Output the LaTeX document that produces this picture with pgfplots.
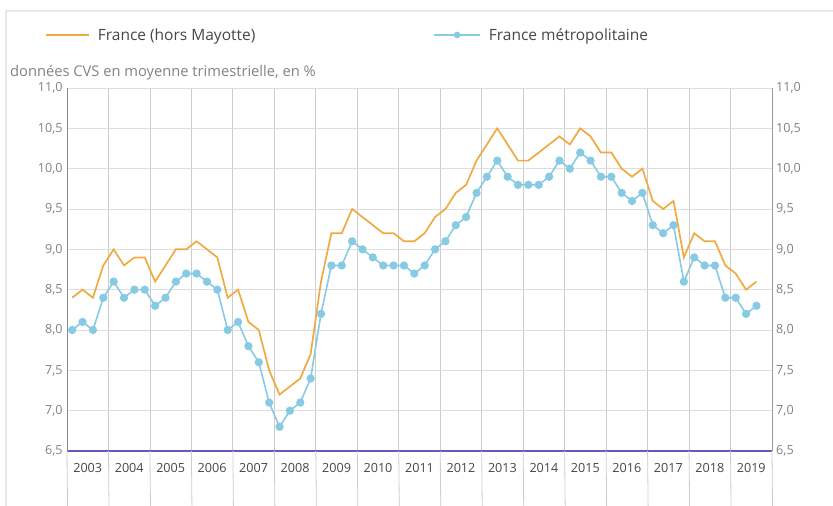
\documentclass[border=0pt]{standalone}
\usepackage{pgfplots}
\pgfplotsset{compat=1.18}
\usepackage{pgfplotstable}
\usepackage{fontspec}
\setmainfont{Open Sans}
\definecolor{orangeL}{RGB}{240,170,65}
\definecolor{blueL}{RGB}{135,202,228}
\definecolor{gridc}{RGB}{222,222,222}
\definecolor{vgrid}{RGB}{205,205,205}
\definecolor{ticktxt}{RGB}{130,130,130}
\definecolor{txt}{RGB}{70,70,70}
\definecolor{axisblue}{RGB}{100,90,190}
\definecolor{framec}{RGB}{232,232,232}

\pgfplotsset{
  legline/.style={legend image code/.code={\draw[##1] (0pt,0pt) -- (43pt,0pt);}},
  legmark/.style={legend image code/.code={\draw[##1, mark repeat=2, mark phase=2, mark size=2.5pt] plot coordinates {(0pt,0pt) (23pt,0pt) (46pt,0pt)};}},
}

\pgfplotstableread{
q fr met
0 8.4 8.0
1 8.5 8.1
2 8.4 8.0
3 8.8 8.4
4 9.0 8.6
5 8.8 8.4
6 8.9 8.5
7 8.9 8.5
8 8.6 8.3
9 8.8 8.4
10 9.0 8.6
11 9.0 8.7
12 9.1 8.7
13 9.0 8.6
14 8.9 8.5
15 8.4 8.0
16 8.5 8.1
17 8.1 7.8
18 8.0 7.6
19 7.5 7.1
20 7.2 6.8
21 7.3 7.0
22 7.4 7.1
23 7.7 7.4
24 8.6 8.2
25 9.2 8.8
26 9.2 8.8
27 9.5 9.1
28 9.4 9.0
29 9.3 8.9
30 9.2 8.8
31 9.2 8.8
32 9.1 8.8
33 9.1 8.7
34 9.2 8.8
35 9.4 9.0
36 9.5 9.1
37 9.7 9.3
38 9.8 9.4
39 10.1 9.7
40 10.3 9.9
41 10.5 10.1
42 10.3 9.9
43 10.1 9.8
44 10.1 9.8
45 10.2 9.8
46 10.3 9.9
47 10.4 10.1
48 10.3 10.0
49 10.5 10.2
50 10.4 10.1
51 10.2 9.9
52 10.2 9.9
53 10.0 9.7
54 9.9 9.6
55 10.0 9.7
56 9.6 9.3
57 9.5 9.2
58 9.6 9.3
59 8.9 8.6
60 9.2 8.9
61 9.1 8.8
62 9.1 8.8
63 8.8 8.4
64 8.7 8.4
65 8.5 8.2
66 8.6 8.3
}\data

\begin{document}
\begin{tikzpicture}
\path[use as bounding box] (0,0) rectangle (833pt,506pt);
\draw[framec, line width=1.5pt] (6pt,0) -- (6pt,495pt) -- (833pt,495pt);
\node[anchor=west, text=ticktxt, font=\fontsize{14.7}{17}\selectfont, inner sep=0pt] at (10pt,433pt) {données CVS en moyenne trimestrielle, en \%};

\begin{axis}[
  at={(67pt,55pt)}, anchor=south west,
  scale only axis, width=705pt, height=363pt,
  xmin=-0.5, xmax=67.5, ymin=6.5, ymax=11,
  clip=false,
  axis x line=bottom, axis y line=left,
  axis line style={-},
  x axis line style={axisblue, line width=1.6pt},
  y axis line style={black!45, line width=0.8pt},
  xtick={1.5,5.5,...,65.5},
  xticklabels={2003,2004,2005,2006,2007,2008,2009,2010,2011,2012,2013,2014,2015,2016,2017,2018,2019},
  major x tick style={draw=none},
  minor xtick={-0.5,3.5,...,67.5},
  minor x tick style={draw=none},
  xminorgrids, minor x grid style={vgrid, line width=0.8pt},
  ytick={6.5,7,...,11},
  ymajorgrids, major y grid style={gridc, line width=0.8pt},
  major y tick style={draw=none},
  yticklabel style={text=ticktxt, font=\fontsize{12.6}{14}\selectfont, inner xsep=2pt, /pgf/number format/.cd, fixed, fixed zerofill, precision=1, use comma, assume math mode=true},
  xticklabel style={text=txt, font=\fontsize{12.6}{14}\selectfont, yshift=-7pt},
  legend columns=2,
  legend style={at={(axis description cs:-0.0312,1.146)}, anchor=west, draw=none, fill=none, inner sep=0pt,
    font=\fontsize{15.5}{18}\selectfont, text=txt,
    /tikz/every odd column/.append style={column sep=6pt},
    /tikz/every even column/.append style={column sep=176pt}},
  legend cell align=left,
]
\addplot[orangeL, line width=1.7pt, no markers, legline] table[x=q, y=fr] {\data};
\addlegendentry{France (hors Mayotte)}
\addplot[blueL, line width=1.6pt, mark=*, mark size=3.3pt, mark options={fill=blueL, draw=blueL}, legmark] table[x=q, y=met] {\data};
\addlegendentry{France métropolitaine}
\pgfplotsinvokeforeach{-0.5,3.5,...,67.5}{
  \draw[vgrid, line width=0.8pt] (axis cs:#1,6.5) -- ++(0,-24pt);
}
\end{axis}
\begin{axis}[
  at={(67pt,55pt)}, anchor=south west,
  scale only axis, width=705pt, height=363pt,
  xmin=-0.5, xmax=67.5, ymin=6.5, ymax=11,
  axis x line=none, axis y line*=right,
  axis line style={-},
  y axis line style={black!40, line width=0.8pt},
  ytick={6.5,7,...,11},
  major y tick style={draw=none},
  yticklabel style={text=ticktxt, font=\fontsize{12.6}{14}\selectfont, inner xsep=4pt, /pgf/number format/.cd, fixed, fixed zerofill, precision=1, use comma, assume math mode=true},
]
\end{axis}
\end{tikzpicture}
\end{document}
